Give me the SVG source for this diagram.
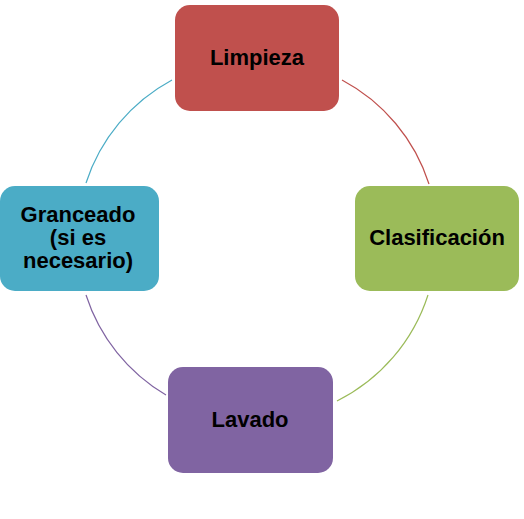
<svg xmlns="http://www.w3.org/2000/svg" width="524" height="519" viewBox="0 0 524 519">
<style>
.t{font-family:"Liberation Sans",Arial,sans-serif;font-weight:bold;font-size:22px;fill:#000;text-anchor:middle}
.a{fill:none;stroke-width:1.2}
</style>
<rect width="524" height="519" fill="#fff"/>
<g id="connectors">
<path class="a" stroke="#C0504D" d="M342,80 A180,180 0 0 1 429,184"/>
<path class="a" stroke="#9BBB59" d="M428,295 A180,180 0 0 1 337,401"/>
<path class="a" stroke="#8064A2" d="M166,395 A180,180 0 0 1 86,295"/>
<path class="a" stroke="#4BACC6" d="M86,183 A180,180 0 0 1 172,80"/>
</g>
<g id="limpieza">
<rect x="175" y="5" width="164" height="106" rx="15" fill="#C0504D"/>
<text class="t" x="257" y="65">Limpieza</text>
</g>
<g id="clasificacion">
<rect x="355" y="186" width="164" height="105" rx="15" fill="#9BBB59"/>
<text class="t" x="437" y="245">Clasificación</text>
</g>
<g id="lavado">
<rect x="168" y="367" width="165" height="106" rx="15" fill="#8064A2"/>
<text class="t" x="250" y="427">Lavado</text>
</g>
<g id="granceado">
<rect x="0" y="186" width="159" height="105" rx="15" fill="#4BACC6"/>
<text class="t" x="78" y="222">Granceado</text>
<text class="t" x="78" y="245">(si es</text>
<text class="t" x="78" y="268">necesario)</text>
</g>
</svg>
